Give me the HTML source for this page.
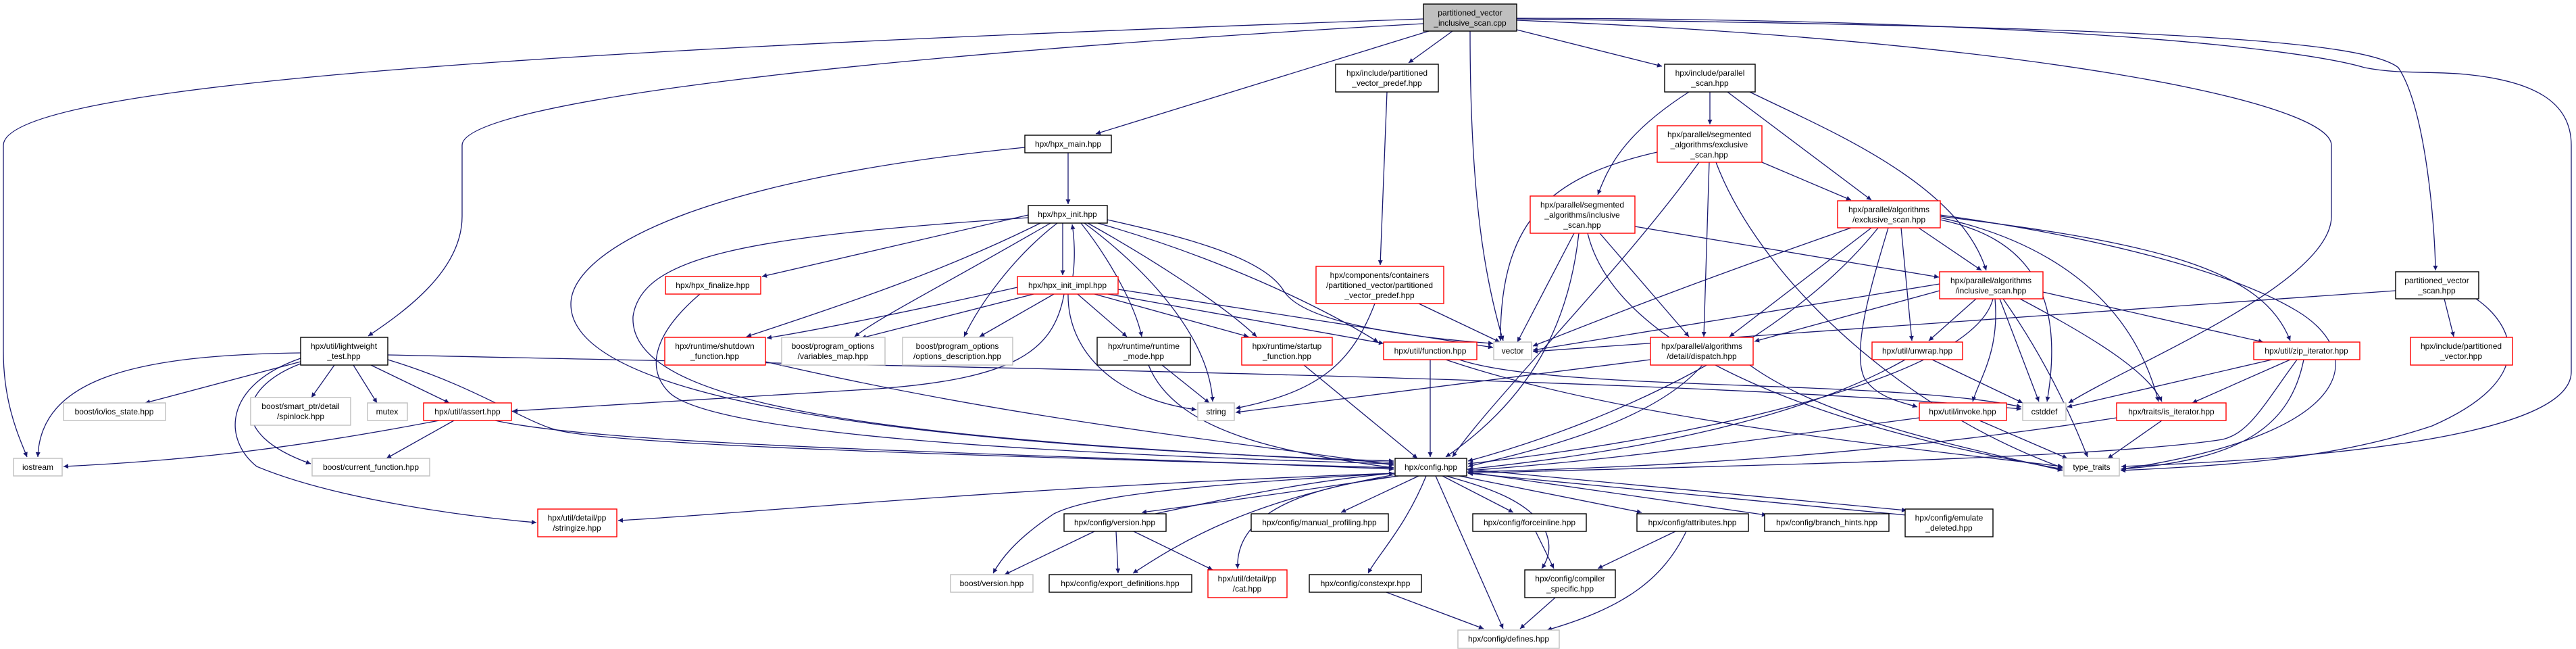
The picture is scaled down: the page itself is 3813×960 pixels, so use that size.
<!DOCTYPE html>
<html><head><meta charset="utf-8"><style>
html,body{margin:0;padding:0;background:#fff;width:3813px;height:960px;overflow:hidden}
svg text{font-family:"Liberation Sans",sans-serif;font-size:12px;fill:#000;text-anchor:middle}
.e{fill:none;stroke:#191970;stroke-width:1.3;marker-end:url(#ah)}
.b{fill:#fff;stroke:#000;stroke-width:1.4}
.r{fill:#fff;stroke:#ff0000;stroke-width:1.4}
.g{fill:#fff;stroke:#bfbfbf;stroke-width:1.4}
.t{fill:#bfbfbf;stroke:#000;stroke-width:1.4}
</style></head><body>
<svg width="3813" height="960" viewBox="0 0 3813 960" xmlns="http://www.w3.org/2000/svg">
<defs><marker id="ah" viewBox="0 0 10 10" refX="10" refY="5" markerWidth="9" markerHeight="7" markerUnits="userSpaceOnUse" orient="auto"><path d="M0,0 L10,5 L0,10 z" fill="#191970"/></marker></defs>
<g>
<path class="e" d="M2107,28 C900,70 5,120 5,215 L5,520 C5,600 30,650 40,676"/>
<path class="e" d="M2107,35 C1300,80 684,150 684,215 L684,320 C684,400 600,460 545,497"/>
<path class="e" d="M2115,46 L1622,198"/>
<path class="e" d="M2150,46 L2085,93"/>
<path class="e" d="M2176,46 C2176,300 2200,420 2225,504"/>
<path class="e" d="M2245,44 L2460,98"/>
<path class="e" d="M2245,30 C3000,60 3451,150 3451,215 L3451,320 C3451,420 3150,540 3062,596"/>
<path class="e" d="M2245,28 C3200,40 3500,60 3550,100 C3590,160 3604,330 3605,400"/>
<path class="e" d="M2245,27 C3000,28 3400,70 3500,100 C3550,110 3600,105 3650,110 C3750,120 3806,150 3806,215 L3806,550 C3806,650 3400,680 3140,690"/>
<path class="e" d="M1581,226 L1581,302"/>
<path class="e" d="M1517,218 C1000,270 845,380 845,450 C845,600 1400,660 2063,682"/>
<path class="e" d="M1522,318 L1128,409"/>
<path class="e" d="M1540,330 C1400,400 1250,450 1105,498"/>
<path class="e" d="M1555,330 C1400,420 1300,470 1265,498"/>
<path class="e" d="M1565,330 C1500,380 1450,450 1427,498"/>
<path class="e" d="M1573,330 L1573,407"/>
<path class="e" d="M1588,409 C1592,380 1590,350 1587,332"/>
<path class="e" d="M1600,330 C1640,380 1680,450 1690,498"/>
<path class="e" d="M1610,330 C1700,380 1810,450 1860,498"/>
<path class="e" d="M1625,330 C1800,380 1950,450 2040,506"/>
<path class="e" d="M1639,325 C1750,350 1870,380 1900,430 C1930,480 2100,500 2210,508"/>
<path class="e" d="M1605,330 C1700,400 1790,500 1795,594"/>
<path class="e" d="M1522,322 C1100,350 950,380 937,468 C930,600 1300,650 2063,684"/>
<path class="e" d="M1506,425 C1350,460 1200,490 1135,500"/>
<path class="e" d="M1530,435 L1275,500"/>
<path class="e" d="M1560,435 L1450,498"/>
<path class="e" d="M1595,435 L1668,498"/>
<path class="e" d="M1620,435 L1848,498"/>
<path class="e" d="M1640,435 L2048,508"/>
<path class="e" d="M1655,428 L2210,514"/>
<path class="e" d="M1581,435 C1580,520 1650,590 1771,606"/>
<path class="e" d="M1575,435 C1560,520 1500,560 1300,575 L759,608"/>
<path class="e" d="M1036,435 C960,500 960,550 990,580 C1050,640 1500,670 2063,686"/>
<path class="e" d="M1133,535 C1500,620 1800,650 2063,688"/>
<path class="e" d="M1700,540 C1740,640 1900,670 2063,692"/>
<path class="e" d="M1720,540 L1790,596"/>
<path class="e" d="M1930,540 L2098,678"/>
<path class="e" d="M2117,532 L2117,676"/>
<path class="e" d="M2140,532 C2400,620 2800,660 3053,690"/>
<path class="e" d="M2160,532 C2300,580 2800,560 2992,602"/>
<path class="e" d="M2100,449 L2220,506"/>
<path class="e" d="M2035,449 C2000,540 1950,580 1829,604"/>
<path class="e" d="M2053,136 L2043,392"/>
<path class="e" d="M2531,136 L2531,184"/>
<path class="e" d="M2500,136 C2400,200 2380,250 2365,288"/>
<path class="e" d="M2557,136 L2770,296"/>
<path class="e" d="M2590,136 C2700,190 2900,270 2940,400"/>
<path class="e" d="M2453,225 C2300,260 2220,320 2221,504"/>
<path class="e" d="M2515,240 C2400,400 2200,600 2150,676"/>
<path class="e" d="M2530,240 L2522,498"/>
<path class="e" d="M2608,240 L2740,296"/>
<path class="e" d="M2540,240 C2600,400 2800,600 3053,692"/>
<path class="e" d="M2330,345 L2246,506"/>
<path class="e" d="M2337,345 C2320,500 2250,600 2140,676"/>
<path class="e" d="M2368,345 L2500,498"/>
<path class="e" d="M2420,335 L2870,410"/>
<path class="e" d="M2350,345 C2400,550 2800,650 3053,694"/>
<path class="e" d="M2840,337 L2933,400"/>
<path class="e" d="M2814,337 L2830,504"/>
<path class="e" d="M2795,337 C2770,420 2740,520 2760,560 C2780,590 2820,596 2838,602"/>
<path class="e" d="M2872,325 C2990,350 3060,420 3030,594"/>
<path class="e" d="M2872,322 C3000,350 3150,420 3195,594"/>
<path class="e" d="M2872,320 C3200,360 3350,400 3390,504"/>
<path class="e" d="M2872,318 C3100,350 3300,400 3400,460 C3500,520 3500,640 3140,694"/>
<path class="e" d="M2740,337 C2500,420 2350,480 2269,512"/>
<path class="e" d="M2770,337 L2560,498"/>
<path class="e" d="M2780,337 C2650,500 2400,620 2173,682"/>
<path class="e" d="M2871,430 L2597,505"/>
<path class="e" d="M2871,420 L2269,518"/>
<path class="e" d="M2925,442 L2855,504"/>
<path class="e" d="M2953,442 C2960,520 2930,560 2920,594"/>
<path class="e" d="M2960,442 L3018,594"/>
<path class="e" d="M2965,442 C3020,520 3060,600 3090,676"/>
<path class="e" d="M2990,442 C3100,500 3180,550 3200,594"/>
<path class="e" d="M3024,432 L3350,506"/>
<path class="e" d="M2950,442 C2920,560 2500,650 2173,686"/>
<path class="e" d="M2520,540 C2450,620 2300,660 2173,690"/>
<path class="e" d="M2590,540 C2700,620 2900,660 3053,696"/>
<path class="e" d="M2443,532 L1829,610"/>
<path class="e" d="M2820,532 C2700,600 2500,660 2173,694"/>
<path class="e" d="M2860,532 L2994,596"/>
<path class="e" d="M2841,618 C2600,650 2400,680 2173,696"/>
<path class="e" d="M2930,622 L3060,678"/>
<path class="e" d="M3133,618 C2800,670 2500,690 2173,698"/>
<path class="e" d="M3200,622 L3120,678"/>
<path class="e" d="M3400,532 C3350,600 3330,640 3290,650 C3100,680 2500,690 2173,700"/>
<path class="e" d="M3363,532 L3060,602"/>
<path class="e" d="M3390,532 L3245,596"/>
<path class="e" d="M3410,532 C3390,630 3320,680 3139,694"/>
<path class="e" d="M3546,430 L2269,520"/>
<path class="e" d="M3618,442 L3632,498"/>
<path class="e" d="M3665,442 C3720,480 3760,560 3600,630 C3450,680 3300,688 3139,696"/>
<path class="e" d="M445,522 C200,525 60,560 56,676"/>
<path class="e" d="M445,535 L215,596"/>
<path class="e" d="M495,540 L461,588"/>
<path class="e" d="M523,540 L558,596"/>
<path class="e" d="M549,540 L665,596"/>
<path class="e" d="M445,538 C360,570 330,640 460,686"/>
<path class="e" d="M445,530 C330,570 330,650 380,690 C500,740 700,765 794,773"/>
<path class="e" d="M574,525 C1500,545 2500,560 2992,605"/>
<path class="e" d="M574,532 C700,570 770,620 820,635 C900,660 1500,675 2063,692"/>
<path class="e" d="M650,622 C450,660 300,680 94,690"/>
<path class="e" d="M672,622 L572,678"/>
<path class="e" d="M733,622 C900,660 1500,670 2063,694"/>
<path class="e" d="M2065,700 C1500,720 1100,760 915,770"/>
<path class="e" d="M2070,704 C1900,730 1750,750 1690,758"/>
<path class="e" d="M1710,760 C1850,730 1950,710 2063,700"/>
<path class="e" d="M2065,700 C1700,720 1600,740 1560,760 C1500,800 1480,830 1470,848"/>
<path class="e" d="M2065,702 C1850,740 1750,800 1677,848"/>
<path class="e" d="M2070,704 C1850,730 1830,800 1832,841"/>
<path class="e" d="M2100,704 L1985,758"/>
<path class="e" d="M2111,704 C2080,780 2040,820 2025,848"/>
<path class="e" d="M2125,704 L2225,930"/>
<path class="e" d="M2135,704 L2240,758"/>
<path class="e" d="M2140,704 C2200,720 2260,740 2285,780 C2300,810 2290,830 2282,841"/>
<path class="e" d="M2160,704 L2430,758"/>
<path class="e" d="M2171,698 L2615,762"/>
<path class="e" d="M2171,694 L2822,755"/>
<path class="e" d="M2822,762 L2173,700"/>
<path class="e" d="M1620,786 L1487,850"/>
<path class="e" d="M1652,786 L1655,848"/>
<path class="e" d="M1678,786 L1795,843"/>
<path class="e" d="M2273,786 L2300,841"/>
<path class="e" d="M2480,786 L2365,841"/>
<path class="e" d="M2496,786 C2460,860 2400,900 2290,932"/>
<path class="e" d="M2052,876 L2196,930"/>
<path class="e" d="M2302,884 L2250,930"/>
</g>
<g>
<rect class="t" x="2107" y="6" width="138" height="40"/><text x="2176" y="23">partitioned_vector</text><text x="2176" y="38">_inclusive_scan.cpp</text>
<rect class="b" x="1977" y="95" width="152" height="41"/><text x="2053" y="112">hpx/include/partitioned</text><text x="2053" y="127">_vector_predef.hpp</text>
<rect class="b" x="2464" y="95" width="134" height="41"/><text x="2531" y="112">hpx/include/parallel</text><text x="2531" y="127">_scan.hpp</text>
<rect class="b" x="1517" y="200" width="128" height="26"/><text x="1581" y="217">hpx/hpx_main.hpp</text>
<rect class="r" x="2453" y="186" width="155" height="54"/><text x="2530" y="203">hpx/parallel/segmented</text><text x="2530" y="218">_algorithms/exclusive</text><text x="2530" y="233">_scan.hpp</text>
<rect class="r" x="2265" y="290" width="155" height="55"/><text x="2342" y="307">hpx/parallel/segmented</text><text x="2342" y="322">_algorithms/inclusive</text><text x="2342" y="337">_scan.hpp</text>
<rect class="b" x="1522" y="304" width="117" height="26"/><text x="1580" y="321">hpx/hpx_init.hpp</text>
<rect class="r" x="1506" y="409" width="149" height="26"/><text x="1580" y="426">hpx/hpx_init_impl.hpp</text>
<rect class="r" x="1948" y="394" width="189" height="55"/><text x="2042" y="411">hpx/components/containers</text><text x="2042" y="426">/partitioned_vector/partitioned</text><text x="2042" y="441">_vector_predef.hpp</text>
<rect class="r" x="985" y="409" width="141" height="26"/><text x="1055" y="426">hpx/hpx_finalize.hpp</text>
<rect class="r" x="984" y="499" width="149" height="41"/><text x="1058" y="516">hpx/runtime/shutdown</text><text x="1058" y="531">_function.hpp</text>
<rect class="g" x="1157" y="499" width="153" height="41"/><text x="1233" y="516">boost/program_options</text><text x="1233" y="531">/variables_map.hpp</text>
<rect class="g" x="1336" y="499" width="163" height="41"/><text x="1417" y="516">boost/program_options</text><text x="1417" y="531">/options_description.hpp</text>
<rect class="b" x="1624" y="499" width="138" height="41"/><text x="1693" y="516">hpx/runtime/runtime</text><text x="1693" y="531">_mode.hpp</text>
<rect class="r" x="1838" y="499" width="134" height="41"/><text x="1905" y="516">hpx/runtime/startup</text><text x="1905" y="531">_function.hpp</text>
<rect class="r" x="2048" y="506" width="138" height="26"/><text x="2117" y="523">hpx/util/function.hpp</text>
<rect class="g" x="2211" y="506" width="56" height="26"/><text x="2239" y="523">vector</text>
<rect class="r" x="2443" y="499" width="152" height="41"/><text x="2519" y="516">hpx/parallel/algorithms</text><text x="2519" y="531">/detail/dispatch.hpp</text>
<rect class="g" x="1773" y="596" width="54" height="26"/><text x="1800" y="613">string</text>
<rect class="b" x="2065" y="678" width="106" height="26"/><text x="2118" y="695">hpx/config.hpp</text>
<rect class="b" x="445" y="499" width="129" height="41"/><text x="509" y="516">hpx/util/lightweight</text><text x="509" y="531">_test.hpp</text>
<rect class="g" x="94" y="596" width="151" height="26"/><text x="169" y="613">boost/io/ios_state.hpp</text>
<rect class="g" x="371" y="588" width="148" height="41"/><text x="445" y="605">boost/smart_ptr/detail</text><text x="445" y="620">/spinlock.hpp</text>
<rect class="g" x="544" y="596" width="59" height="26"/><text x="573" y="613">mutex</text>
<rect class="r" x="627" y="596" width="130" height="26"/><text x="692" y="613">hpx/util/assert.hpp</text>
<rect class="g" x="20" y="678" width="72" height="26"/><text x="56" y="695">iostream</text>
<rect class="g" x="462" y="678" width="174" height="26"/><text x="549" y="695">boost/current_function.hpp</text>
<rect class="r" x="796" y="753" width="117" height="41"/><text x="854" y="770">hpx/util/detail/pp</text><text x="854" y="785">/stringize.hpp</text>
<rect class="b" x="1575" y="760" width="151" height="26"/><text x="1650" y="777">hpx/config/version.hpp</text>
<rect class="b" x="1852" y="760" width="203" height="26"/><text x="1953" y="777">hpx/config/manual_profiling.hpp</text>
<rect class="b" x="2180" y="760" width="168" height="26"/><text x="2264" y="777">hpx/config/forceinline.hpp</text>
<rect class="b" x="2423" y="760" width="165" height="26"/><text x="2505" y="777">hpx/config/attributes.hpp</text>
<rect class="b" x="2612" y="760" width="184" height="26"/><text x="2704" y="777">hpx/config/branch_hints.hpp</text>
<rect class="b" x="2820" y="753" width="130" height="41"/><text x="2885" y="770">hpx/config/emulate</text><text x="2885" y="785">_deleted.hpp</text>
<rect class="g" x="1407" y="850" width="122" height="26"/><text x="1468" y="867">boost/version.hpp</text>
<rect class="b" x="1553" y="850" width="211" height="26"/><text x="1658" y="867">hpx/config/export_definitions.hpp</text>
<rect class="r" x="1788" y="843" width="117" height="41"/><text x="1846" y="860">hpx/util/detail/pp</text><text x="1846" y="875">/cat.hpp</text>
<rect class="b" x="1938" y="850" width="166" height="26"/><text x="2021" y="867">hpx/config/constexpr.hpp</text>
<rect class="b" x="2257" y="843" width="134" height="41"/><text x="2324" y="860">hpx/config/compiler</text><text x="2324" y="875">_specific.hpp</text>
<rect class="g" x="2158" y="932" width="150" height="27"/><text x="2233" y="949">hpx/config/defines.hpp</text>
<rect class="r" x="2720" y="297" width="152" height="40"/><text x="2796" y="314">hpx/parallel/algorithms</text><text x="2796" y="329">/exclusive_scan.hpp</text>
<rect class="r" x="2871" y="402" width="153" height="40"/><text x="2947" y="419">hpx/parallel/algorithms</text><text x="2947" y="434">/inclusive_scan.hpp</text>
<rect class="b" x="3546" y="402" width="123" height="40"/><text x="3607" y="419">partitioned_vector</text><text x="3607" y="434">_scan.hpp</text>
<rect class="r" x="3568" y="499" width="151" height="41"/><text x="3643" y="516">hpx/include/partitioned</text><text x="3643" y="531">_vector.hpp</text>
<rect class="r" x="2771" y="506" width="134" height="26"/><text x="2838" y="523">hpx/util/unwrap.hpp</text>
<rect class="r" x="3336" y="506" width="157" height="26"/><text x="3414" y="523">hpx/util/zip_iterator.hpp</text>
<rect class="r" x="2841" y="596" width="129" height="26"/><text x="2905" y="613">hpx/util/invoke.hpp</text>
<rect class="g" x="2994" y="596" width="64" height="26"/><text x="3026" y="613">cstddef</text>
<rect class="r" x="3133" y="596" width="162" height="26"/><text x="3214" y="613">hpx/traits/is_iterator.hpp</text>
<rect class="g" x="3055" y="678" width="82" height="26"/><text x="3096" y="695">type_traits</text>
</g>
</svg>
</body></html>
